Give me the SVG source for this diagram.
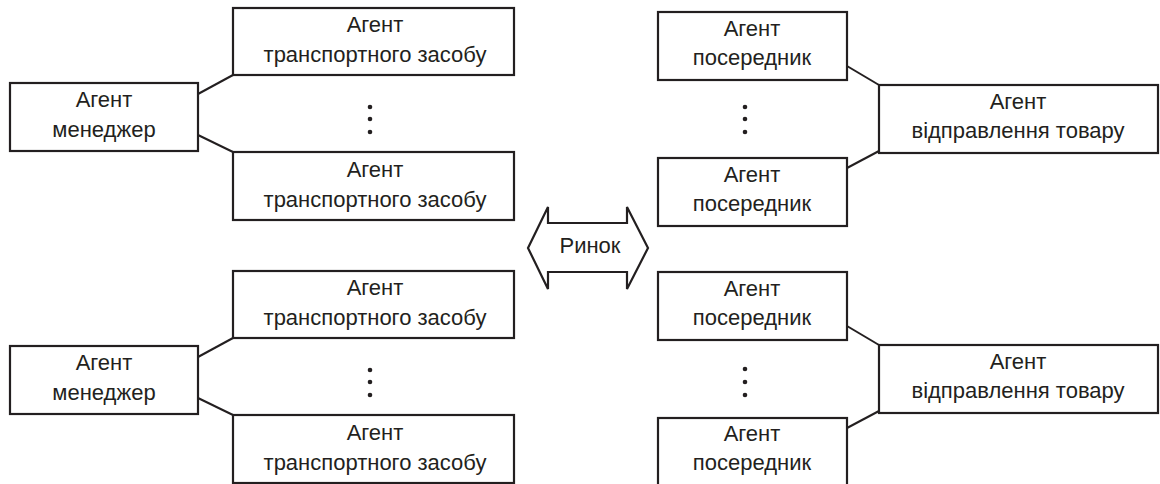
<svg xmlns="http://www.w3.org/2000/svg" width="1160" height="484" viewBox="0 0 1160 484">
<style>
.b{fill:#fff;stroke:#231f20;stroke-width:2.2}
.t{font-family:"Liberation Sans",Arial,sans-serif;font-size:22px;fill:#231f20;text-anchor:middle}
.c{stroke:#231f20;stroke-width:2;fill:none}
.d{fill:#231f20}
</style>
<g id="connectors">
<line class="c" x1="198" y1="94" x2="233" y2="75"/>
<line class="c" x1="198" y1="135" x2="233" y2="152"/>
<line class="c" x1="847" y1="66" x2="879" y2="85"/>
<line class="c" x1="847" y1="168" x2="879" y2="151"/>
<line class="c" x1="198" y1="357" x2="233" y2="338"/>
<line class="c" x1="198" y1="398" x2="233" y2="415"/>
<line class="c" x1="847" y1="326" x2="879" y2="345"/>
<line class="c" x1="847" y1="428" x2="879" y2="411"/>
</g>
<g id="dots">
<circle class="d" cx="370" cy="107" r="2.3"/><circle class="d" cx="370" cy="119" r="2.3"/><circle class="d" cx="370" cy="132" r="2.3"/>
<circle class="d" cx="745" cy="107" r="2.3"/><circle class="d" cx="745" cy="119" r="2.3"/><circle class="d" cx="745" cy="132" r="2.3"/>
<circle class="d" cx="370" cy="370" r="2.3"/><circle class="d" cx="370" cy="382" r="2.3"/><circle class="d" cx="370" cy="395" r="2.3"/>
<circle class="d" cx="745" cy="369" r="2.3"/><circle class="d" cx="745" cy="382" r="2.3"/><circle class="d" cx="745" cy="395" r="2.3"/>
</g>
<g id="market">
<polygon class="b" points="528,248 548,207 548,223 627,223 627,207 648,248 627,289 627,272 548,272 548,289"/>
<text class="t" x="590" y="253">Ринок</text>
</g>
<g id="vehicle1">
<rect class="b" x="233" y="8" width="281" height="67"/>
<text class="t" x="375" y="32">Агент</text><text class="t" x="375" y="62">транспортного засобу</text>
</g>
<g id="manager1">
<rect class="b" x="10" y="83" width="188" height="68"/>
<text class="t" x="104" y="107">Агент</text><text class="t" x="104" y="137">менеджер</text>
</g>
<g id="vehicle2">
<rect class="b" x="233" y="152" width="281" height="68"/>
<text class="t" x="375" y="177">Агент</text><text class="t" x="375" y="207">транспортного засобу</text>
</g>
<g id="broker1">
<rect class="b" x="658" y="12" width="189" height="68"/>
<text class="t" x="752" y="36">Агент</text><text class="t" x="752" y="65">посередник</text>
</g>
<g id="shipping1">
<rect class="b" x="879" y="85" width="279" height="68"/>
<text class="t" x="1018" y="109">Агент</text><text class="t" x="1018" y="138">відправлення товару</text>
</g>
<g id="broker2">
<rect class="b" x="658" y="158" width="189" height="68"/>
<text class="t" x="752" y="182">Агент</text><text class="t" x="752" y="211">посередник</text>
</g>
<g id="vehicle3">
<rect class="b" x="233" y="271" width="281" height="67"/>
<text class="t" x="375" y="295">Агент</text><text class="t" x="375" y="325">транспортного засобу</text>
</g>
<g id="manager2">
<rect class="b" x="10" y="346" width="188" height="68"/>
<text class="t" x="104" y="370">Агент</text><text class="t" x="104" y="400">менеджер</text>
</g>
<g id="vehicle4">
<rect class="b" x="233" y="415" width="281" height="68"/>
<text class="t" x="375" y="440">Агент</text><text class="t" x="375" y="470">транспортного засобу</text>
</g>
<g id="broker3">
<rect class="b" x="658" y="272" width="189" height="68"/>
<text class="t" x="752" y="296">Агент</text><text class="t" x="752" y="325">посередник</text>
</g>
<g id="shipping2">
<rect class="b" x="879" y="345" width="279" height="68"/>
<text class="t" x="1018" y="369">Агент</text><text class="t" x="1018" y="398">відправлення товару</text>
</g>
<g id="broker4">
<rect class="b" x="658" y="418" width="189" height="68"/>
<text class="t" x="752" y="441">Агент</text><text class="t" x="752" y="470">посередник</text>
</g>
</svg>
